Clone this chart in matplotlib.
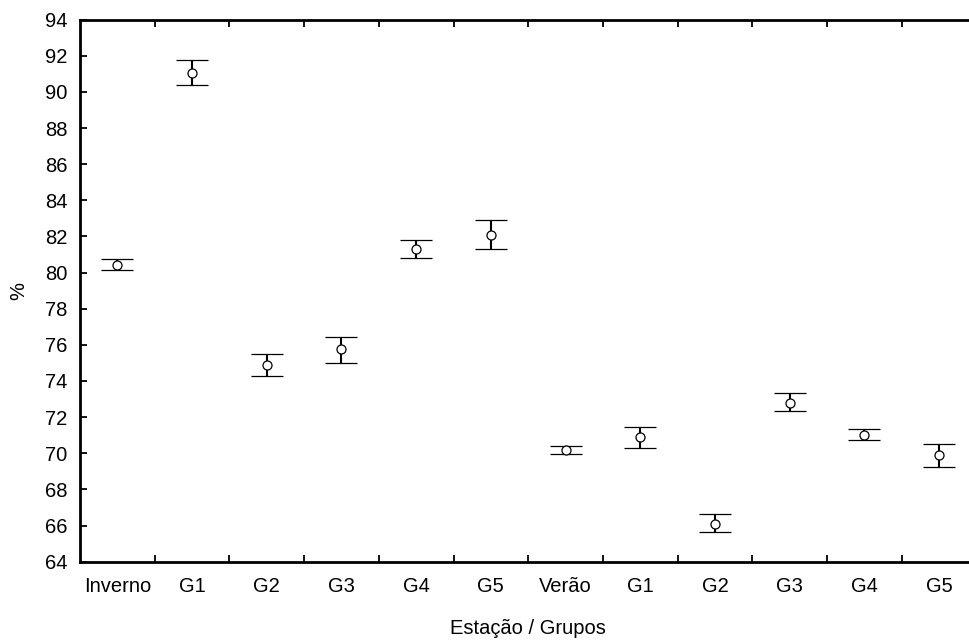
import numpy as np
import matplotlib.pyplot as plt

plt.rcParams['font.family'] = ['Liberation Sans', 'DejaVu Sans']

# categories (winter block, then summer block)
categories = ['Inverno', 'G1', 'G2', 'G3', 'G4', 'G5',
              'Verão', 'G1', 'G2', 'G3', 'G4', 'G5']
means = [80.42, 91.06, 74.87, 75.75, 81.30, 82.08,
         70.20, 70.88, 66.10, 72.77, 70.99, 69.89]
upper = [80.75, 91.75, 75.48, 76.45, 81.80, 82.91,
         70.40, 71.44, 66.64, 73.32, 71.36, 70.51]
lower = [80.13, 90.40, 74.28, 75.01, 80.81, 81.32,
         69.94, 70.29, 65.64, 72.36, 70.73, 69.26]
y_ticks = np.arange(64, 95, 2)

means = np.array(means)
yerr = [means - np.array(lower), np.array(upper) - means]
x = np.arange(1, len(categories) + 1)

fig = plt.figure(figsize=(9.69, 6.42), dpi=100)
ax = fig.add_axes([0.0826, 0.1251, 1 - 0.0826, 0.9695 - 0.1251])

ax.errorbar(x, means, yerr=yerr, fmt='o', color='black', ecolor='black',
            elinewidth=1.5, capsize=11.5, capthick=2.2,
            markerfacecolor='white', markeredgecolor='black',
            markersize=6.5, markeredgewidth=0.9, zorder=3)

# the frame is wider than the picture, right edge is cut off
ax.set_xlim(0.5, 0.5 + 889 / 74.7)
ax.set_ylim(64, 94)
ax.set_yticks(y_ticks)
ax.set_yticklabels([str(v) for v in y_ticks], fontsize=14.5)

# category labels under each point, ticks between categories
ax.set_xticks(np.arange(1.5, len(categories), 1))
ax.set_xticklabels([])
ax.set_xticks(x, minor=True)
ax.set_xticklabels(categories, minor=True, fontsize=14.5)
ax.tick_params(axis='x', which='minor', length=0, pad=11)
ax.tick_params(axis='x', which='major', direction='in', length=5, width=1.3,
               top=True)
ax.tick_params(axis='y', direction='in', length=5, width=1.3, pad=9)

for side in ['left', 'bottom', 'top']:
    ax.spines[side].set_linewidth(2)
ax.spines['right'].set_visible(False)

ax.set_xlabel('Estação / Grupos', fontsize=14.5)
ax.xaxis.set_label_coords(6.0 / (889 / 74.7), -0.105)
ax.set_ylabel('%', fontsize=14.5)
ax.yaxis.set_label_coords(-0.058, 0.5)

fig.savefig('out.png', dpi=100)
